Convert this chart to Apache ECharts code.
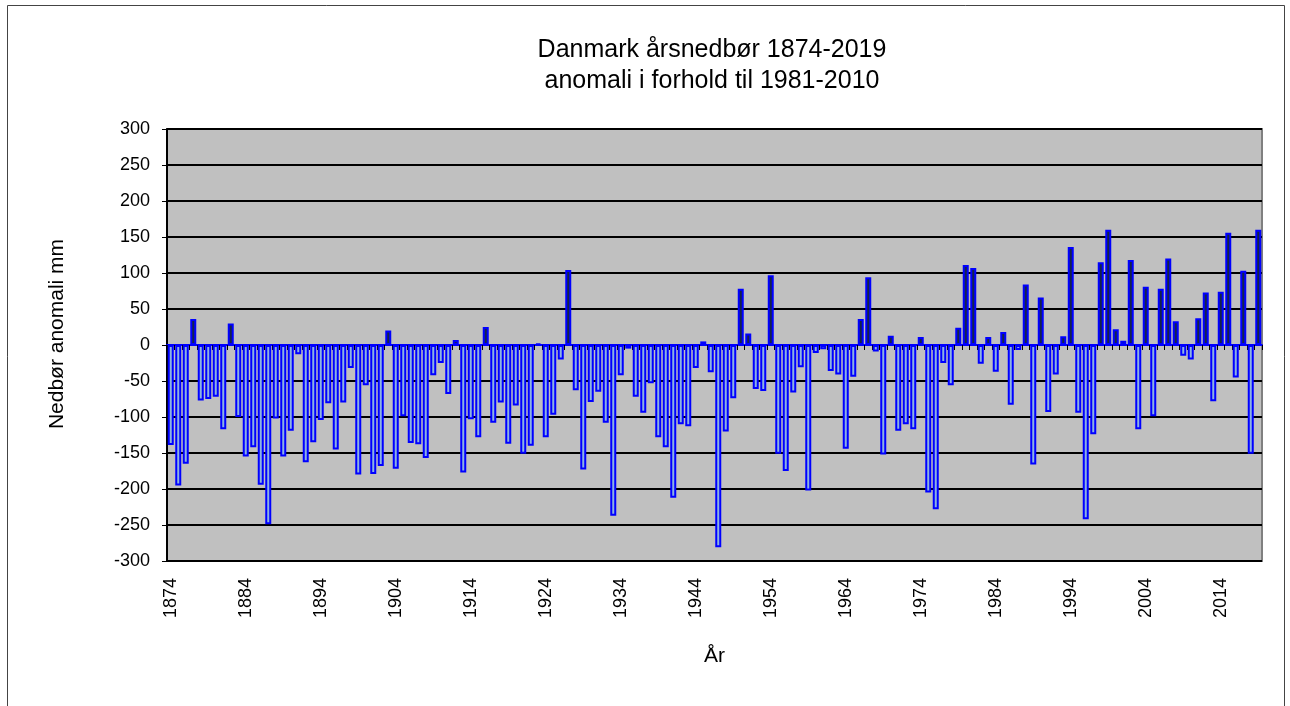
<!DOCTYPE html>
<html>
<head>
<meta charset="utf-8">
<script src="https://cdn.jsdelivr.net/npm/echarts@6/dist/echarts.min.js"></script>
<style>
html,body{margin:0;padding:0;background:#fff;}
#chart{width:1290px;height:706px;}
</style>
</head>
<body>
<div id="chart"></div>
<script>
var firstYear = 1874;
var lastYear = 2019;
var years = [];
for (var y = firstYear; y <= lastYear; y++) years.push(String(y));

var anomalies = [
  -139, -195, -165, 36, -77, -75, -72, -117, 30, -100,
  -155, -142, -194, -249, -102, -155, -119, -13, -163, -135,
  -104, -81, -145, -80, -32, -180, -56, -179, -168, 20,
  -172, -99, -136, -138, -157, -42, -25, -68, 7, -177,
  -103, -128, 25, -108, -80, -137, -84, -151, -140, 2,
  -128, -97, -20, 104, -63, -173, -79, -65, -108, -237,
  -42, -5, -72, -94, -53, -128, -142, -212, -110, -113,
  -32, 5, -38, -281, -120, -74, 78, 16, -61, -64,
  97, -151, -175, -66, -31, -202, -11, -6, -36, -41,
  -144, -44, 36, 94, -9, -152, 13, -119, -110, -117,
  11, -205, -228, -25, -56, 24, 111, 107, -26, 11,
  -37, 18, -83, -7, 84, -166, 66, -93, -41, 12,
  136, -94, -242, -124, 115, 160, 22, 6, 118, -117,
  81, -99, 78, 120, 33, -15, -20, 37, 73, -78,
  74, 156, -45, 103, -151, 160
];

var yTicks = { min: -300, max: 300, interval: 50 };

var titleText = 'Danmark årsnedbør 1874-2019\nanomali i forhold til 1981-2010';
var yName = 'Nedbør anomali mm';
var xName = 'År';

var FONT = '"Liberation Sans", Arial, sans-serif';
var chart = echarts.init(document.getElementById('chart'), null, {renderer: 'canvas'});

chart.setOption({
  animation: false,
  backgroundColor: '#ffffff',
  graphic: [{
    type: 'rect',
    shape: {x: 7.5, y: 5.5, width: 1277, height: 720},
    style: {fill: 'none', stroke: '#444', lineWidth: 1},
    silent: true,
    z: -10
  }],
  title: {
    text: titleText,
    left: 707,
    top: 30,
    textAlign: 'center',
    textStyle: {fontFamily: FONT, fontSize: 25, fontWeight: 'normal', color: '#000', lineHeight: 31}
  },
  grid: {
    left: 167, right: 28, top: 129, bottom: 145,
    show: true,
    backgroundColor: '#C0C0C0',
    borderColor: '#808080',
    borderWidth: 2,
    containLabel: false
  },
  xAxis: [{
    type: 'category',
    data: years,
    position: 'bottom',
    boundaryGap: true,
    axisLine: {show: false, onZero: false},
    axisTick: {show: false},
    splitLine: {show: false},
    axisLabel: {
      interval: 9,
      rotate: 90,
      margin: 17,
      fontFamily: FONT,
      fontSize: 18,
      color: '#000'
    },
    name: xName,
    nameLocation: 'middle',
    nameGap: 85,
    nameTextStyle: {fontFamily: FONT, fontSize: 21, color: '#000'}
  }, {
    type: 'category',
    data: years,
    position: 'top',
    boundaryGap: true,
    axisLine: {show: true, onZero: true, lineStyle: {color: '#0000FF', width: 2}},
    axisTick: {show: true, inside: true, length: 5, interval: 0, lineStyle: {color: '#000', width: 1}},
    axisLabel: {show: false},
    splitLine: {show: false}
  }],
  yAxis: {
    type: 'value',
    min: yTicks.min,
    max: yTicks.max,
    interval: yTicks.interval,
    axisLine: {show: true, lineStyle: {color: '#000', width: 2}},
    axisTick: {show: true, length: 5, lineStyle: {color: '#000', width: 1}},
    splitLine: {show: true, lineStyle: {color: '#000', width: 2}},
    axisLabel: {margin: 17, fontFamily: FONT, fontSize: 18, color: '#000'},
    name: yName,
    nameLocation: 'middle',
    nameGap: 99,
    nameTextStyle: {fontFamily: FONT, fontSize: 21, color: '#000', padding: [0, 0, 0, 22]}
  },
  series: [{
    type: 'bar',
    xAxisIndex: 0,
    data: anomalies,
    barWidth: 6,
    itemStyle: {
      color: function (p) { return p.value >= 0 ? '#14244C' : '#8DB3E2'; },
      borderColor: '#0000FF',
      borderWidth: 2
    }
  }]
});
</script>
</body>
</html>
